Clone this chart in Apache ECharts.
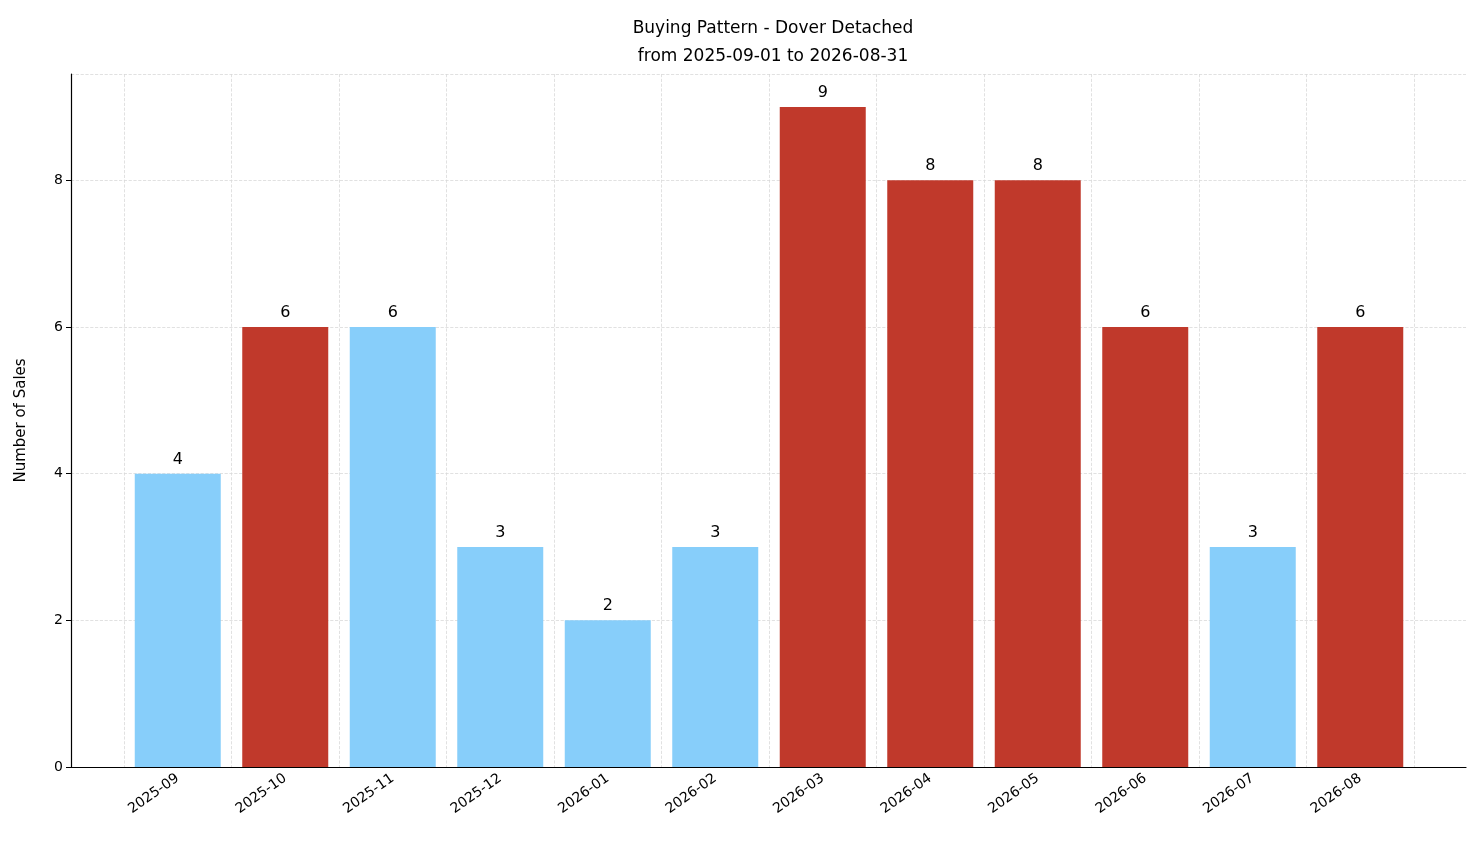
<!DOCTYPE html><html><head><meta charset="utf-8"><script src="https://cdn.jsdelivr.net/npm/echarts@6/dist/echarts.min.js"></script>
<style>html,body{margin:0;background:#fff}#c{width:1481px;height:863px}</style></head><body><div id="c"></div><script>
const categories=['2025-09','2025-10','2025-11','2025-12','2026-01','2026-02','2026-03','2026-04','2026-05','2026-06','2026-07','2026-08'];
const sales=[4,6,6,3,2,3,9,8,8,6,3,6];
const highlighted=[false,true,false,false,false,false,true,true,true,true,false,true];
const yTicks=[0,2,4,6,8];
const RED='#c0392b',BLUE='#87cefa';
const font='DejaVu Sans';
const chart=echarts.init(document.getElementById('c'));
const yMax=9.45;
chart.setOption({
 animation:false,
 textStyle:{fontFamily:font},
 title:{text:'Buying Pattern - Dover Detached\nfrom 2025-09-01 to 2026-08-31',left:768,textAlign:'center',top:10,textStyle:{fontFamily:font,fontWeight:'normal',fontSize:17,color:'#000',lineHeight:28}},
 grid:[{left:71,right:15,top:74,bottom:96},{left:124,right:67,top:74,bottom:96}],
 xAxis:[
  {gridIndex:0,type:'category',data:categories,axisLine:{lineStyle:{color:'#000',width:1.2}},axisTick:{show:false},axisLabel:{show:false},splitLine:{show:false}},
  {gridIndex:1,type:'category',data:categories,axisLine:{show:false},axisTick:{alignWithLabel:true,length:5,lineStyle:{color:'#000'}},
   axisLabel:{rotate:35,fontSize:14,color:'#000',fontFamily:font,margin:10},
   splitLine:{show:true,interval:0,lineStyle:{type:'dashed',color:'#d9d9d9',width:0.8}}}
 ],
 yAxis:[
  {gridIndex:0,type:'value',min:0,max:yMax,interval:2,name:'Number of Sales',nameLocation:'middle',nameGap:42,nameTextStyle:{fontSize:15,color:'#000',fontFamily:font},
   axisLine:{show:true,lineStyle:{color:'#000',width:1.2}},axisTick:{show:true,length:5,lineStyle:{color:'#000'}},
   axisLabel:{fontSize:14,color:'#000',showMaxLabel:false,formatter:v=>yTicks.includes(v)?String(v):''},
   splitLine:{show:true,lineStyle:{type:'dashed',color:'#d9d9d9',width:0.8}}},
  {gridIndex:1,type:'value',min:0,max:yMax,show:false,splitLine:{show:false}}
 ],
 series:[{type:'bar',xAxisIndex:1,yAxisIndex:1,barWidth:'80%',
  data:sales.map((v,i)=>({value:v,itemStyle:{color:highlighted[i]?RED:BLUE}})),
  label:{show:true,position:'top',distance:6,fontSize:16,color:'#000',fontFamily:font}}]
});
</script></body></html>
